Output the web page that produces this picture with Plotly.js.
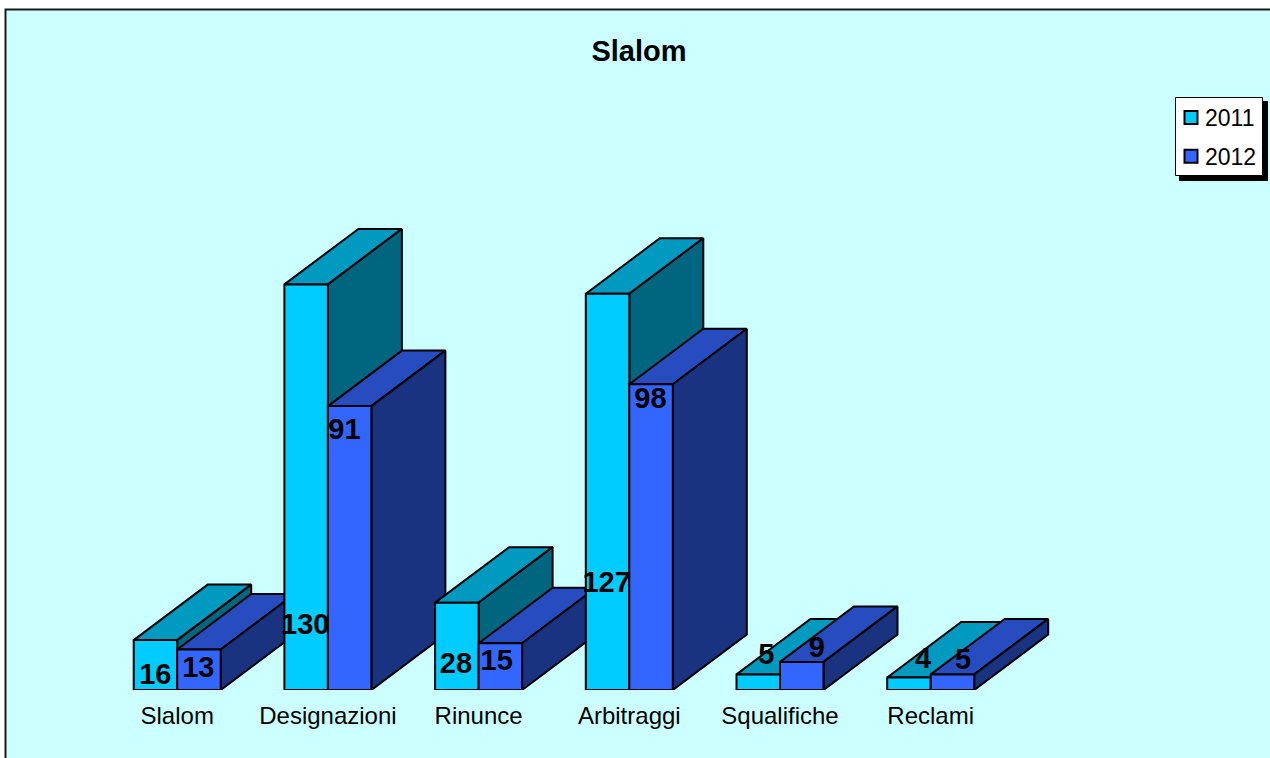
<!DOCTYPE html>
<html>
<head>
<meta charset="utf-8">
<script src="https://cdn.plot.ly/plotly-3.0.1.min.js"></script>
<style>html,body{margin:0;padding:0;background:#fff;overflow:hidden}#chart{width:1270px;height:758px}</style>
</head>
<body>
<div id="chart"></div>
<script>
const categories = ["Slalom", "Designazioni", "Rinunce", "Arbitraggi", "Squalifiche", "Reclami"];
const values2011 = [16, 130, 28, 127, 5, 4];
const values2012 = [13, 91, 15, 98, 9, 5];

// Where each data label sits (category offset, height in value units)
const labelOffset2011 = [-0.145, -0.15, -0.15, -0.15, -0.09, -0.05];
const labelOffset2012 = [0.14, 0.11, 0.12, 0.14, 0.245, 0.215];
const labelLift2011 = [4.2, 20.2, 7.7, 33.7, 10.6, 9.3];
const labelLift2012 = [6.4, 82.7, 8.7, 92.7, 12.9, 9.0];

const W = 1270, H = 758, baseY = 690, pxPerUnit = 3.12, pxPerCat = 150.7, firstCatX = 177.2;
const barW = 43.5 / pxPerCat, depthX = 74 / pxPerCat, depthY = 55.5 / pxPerUnit;

const styles = {
  2011: {front: "#00CCFF", top: "#0099BF", side: "#006680"},
  2012: {front: "#3366FF", top: "#264CBF", side: "#1A3380"}
};

function face(xs, ys, color) {
  return {type: "scatter", mode: "lines", x: xs.concat(xs[0]), y: ys.concat(ys[0]), fill: "toself",
    fillcolor: color, line: {color: "#000", width: 2}, hoverinfo: "skip", showlegend: false, cliponaxis: false};
}
function box(x0, v, c) {
  const x1 = x0 + barW;
  return [
    face([x0, x1, x1 + depthX, x0 + depthX], [v, v, v + depthY, v + depthY], c.top),
    face([x1, x1 + depthX, x1 + depthX, x1], [0, depthY, v + depthY, v], c.side),
    face([x0, x1, x1, x0], [0, 0, v, v], c.front)
  ];
}

const traces = [];
categories.forEach((_, i) => {
  traces.push(...box(i - barW, values2011[i], styles[2011]));
  traces.push(...box(i, values2012[i], styles[2012]));
});

function labelTrace(values, offsets, lifts) {
  return {type: "scatter", mode: "text", x: values.map((_, i) => i + offsets[i]), y: lifts,
    text: values.map(String), textposition: "middle center",
    textfont: {family: "Liberation Sans, Arial, sans-serif", size: 29, color: "#000", weight: 700},
    hoverinfo: "skip", showlegend: false, cliponaxis: false};
}
traces.push(labelTrace(values2011, labelOffset2011, labelLift2011));
traces.push(labelTrace(values2012, labelOffset2012, labelLift2012));

[["2011", styles[2011].front], ["2012", styles[2012].front]].forEach(([name, color]) => {
  traces.push({type: "scatter", mode: "markers", x: [null], y: [null], name: name, legendgroup: name,
    marker: {symbol: "square", size: 13, color: color, line: {color: "#000", width: 2}}});
});

const px = x => x / W;
const py = y => (baseY - y) / baseY;

const layout = {
  width: W, height: H,
  margin: {l: 0, r: 0, t: 0, b: H - baseY, pad: 0, autoexpand: false},
  paper_bgcolor: "#fff", plot_bgcolor: "rgba(0,0,0,0)",
  font: {family: "Liberation Sans, Arial, sans-serif", color: "#000"},
  title: {text: "<b>Slalom</b>", font: {size: 29, color: "#000"}, x: 639 / W, xanchor: "center", xref: "paper",
    y: 1 - 51 / H, yanchor: "middle", yref: "container"},
  xaxis: {range: [-firstCatX / pxPerCat, (W - firstCatX) / pxPerCat], tickmode: "array",
    tickvals: categories.map((_, i) => i), ticktext: categories, showgrid: false, zeroline: false, showline: false,
    ticks: "", tickfont: {size: 24, color: "#000"}, fixedrange: true, ticklabelstandoff: 9},
  yaxis: {range: [0, baseY / pxPerUnit], visible: false, showgrid: false, zeroline: false, fixedrange: true},
  showlegend: true,
  legend: {x: px(1171), xanchor: "left", y: py(96), yanchor: "top", bgcolor: "rgba(0,0,0,0)", borderwidth: 0,
    font: {size: 23, color: "#000"}, itemwidth: 30, tracegroupgap: 6, itemclick: false, itemdoubleclick: false},
  shapes: [
    {type: "rect", xref: "paper", yref: "paper", layer: "below", x0: px(5.5), x1: px(1275), y0: py(9.5), y1: py(765),
      fillcolor: "#CCFFFF", line: {color: "#1a1a1a", width: 2}},
    {type: "rect", xref: "paper", yref: "paper", layer: "below", x0: px(1179), x1: px(1268), y0: py(101), y1: py(181),
      fillcolor: "#000", line: {width: 0}},
    {type: "rect", xref: "paper", yref: "paper", layer: "below", x0: px(1175.5), x1: px(1262.5), y0: py(97.5), y1: py(175.5),
      fillcolor: "#fff", line: {color: "#000", width: 1}}
  ]
};
Plotly.newPlot("chart", traces, layout, {displayModeBar: false, responsive: false}).then(gd => {
  gd.querySelectorAll(".legendtext").forEach(t => t.setAttribute("x", parseFloat(t.getAttribute("x")) - 6));
});
</script>
</body>
</html>
